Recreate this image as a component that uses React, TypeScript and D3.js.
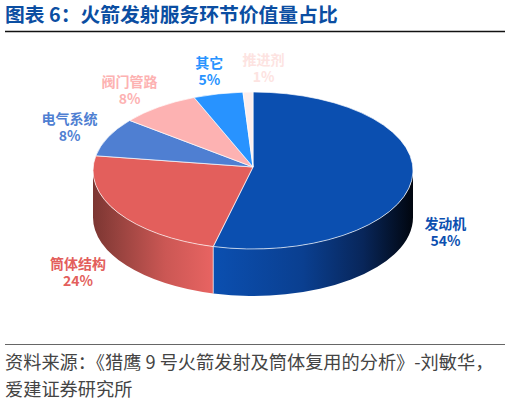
import { useMemo } from "react";
import * as d3 from "d3";

const categories = ["发动机", "筒体结构", "电气系统", "阀门管路", "其它", "推进剂"];
const shares = [54, 24, 8, 8, 5, 1];
const topColors = ["#0b4fb0", "#e35f5c", "#4f7fd2", "#fdb2b2", "#2893ff", "#fdeeec"];
const labelColors = ["#0b4fb0", "#e35f5c", "#4f7fd2", "#fdb2b2", "#2893ff", "#fde3e1"];
// small hand nudges so the labels sit where the original has them
const labelNudge = [
  [-11, 5],
  [-2, 14],
  [2, 0],
  [-3, 2],
  [1, 0],
  [17, -1],
];
const sourceLines = ["资料来源：《猎鹰 9 号火箭发射及筒体复用的分析》-刘敏华，", "爱建证券研究所"];

const W = 513;
const H = 404;
const cx = 253;
const cy = 170.5;
const rx = 160;
const ry = 78.5;
const apexY = 167;
const depth = 47;
const font = "'Noto Sans CJK SC', 'Noto Sans', sans-serif";

const px = (a: number) => cx + rx * Math.sin(a);
const py = (a: number) => cy - ry * Math.cos(a);

export default function App() {
  const slices = useMemo(
    () =>
      d3
        .pie<number>()
        .sort(null)
        .value((d) => d)(shares),
    []
  );

  const topPath = (a0: number, a1: number) => {
    const large = a1 - a0 > Math.PI ? 1 : 0;
    return `M${cx},${apexY}L${px(a0)},${py(a0)}A${rx},${ry} 0 ${large} 1 ${px(a1)},${py(a1)}Z`;
  };

  // only the front half of the rim shows
  const sidePath = (a0: number, a1: number) => {
    const s = Math.max(a0, Math.PI / 2);
    const e = Math.min(a1, (Math.PI * 3) / 2);
    if (e <= s) return null;
    return (
      `M${px(s)},${py(s)}A${rx},${ry} 0 0 1 ${px(e)},${py(e)}` +
      `L${px(e)},${py(e) + depth}A${rx},${ry} 0 0 0 ${px(s)},${py(s) + depth}Z`
    );
  };

  const blueEdgeX = px(slices[0].endAngle);

  return (
    <svg
      width={W}
      height={H}
      style={{ position: "absolute", left: 0, top: 0, background: "#fff" }}
      fontFamily={font}
    >
      <defs>
        <linearGradient id="rimBlue" gradientUnits="userSpaceOnUse" x1={blueEdgeX} x2={cx + rx} y1={0} y2={0}>
          <stop offset="0" stopColor="#0b4fb0" />
          <stop offset="0.45" stopColor="#0a3f90" />
          <stop offset="0.75" stopColor="#08265a" />
          <stop offset="1" stopColor="#01060f" />
        </linearGradient>
        <linearGradient id="rimRed" gradientUnits="userSpaceOnUse" x1={cx - rx} x2={blueEdgeX} y1={0} y2={0}>
          <stop offset="0" stopColor="#7c3632" />
          <stop offset="0.2" stopColor="#96423e" />
          <stop offset="0.6" stopColor="#cb5754" />
          <stop offset="1" stopColor="#e86462" />
        </linearGradient>
      </defs>

      <text x={5} y={22} fontSize={19.8} fontWeight={700} fill="#0b4ea2">
        图表 6：火箭发射服务环节价值量占比
      </text>
      <line x1={5} x2={505} y1={31.5} y2={31.5} stroke="#111" strokeWidth={1.4} />

      {slices.slice(0, 2).map((d, i) => {
        const p = sidePath(d.startAngle, d.endAngle);
        return p ? (
          <path key={categories[i]} d={p} fill={i === 0 ? "url(#rimBlue)" : "url(#rimRed)"} />
        ) : null;
      })}
      <line
        x1={blueEdgeX}
        x2={blueEdgeX}
        y1={py(slices[0].endAngle)}
        y2={py(slices[0].endAngle) + depth}
        stroke="#fff"
        strokeOpacity={0.8}
        strokeWidth={0.8}
      />

      {slices.map((d, i) => (
        <path
          key={categories[i]}
          d={topPath(d.startAngle, d.endAngle)}
          fill={topColors[i]}
          stroke="#fff"
          strokeOpacity={0.85}
          strokeWidth={0.8}
          strokeLinejoin="round"
        />
      ))}

      {slices.map((d, i) => {
        const mid = (d.startAngle + d.endAngle) / 2;
        const front = Math.cos(mid) < 0;
        const x = cx + 205 * Math.sin(mid) + labelNudge[i][0];
        const y = cy - (front ? 75 : 102) * Math.cos(mid) + (front ? depth : 0) + labelNudge[i][1];
        return (
          <g key={categories[i]} textAnchor="middle" fontSize={14} fontWeight={700} fill={labelColors[i]}>
            <text x={x} y={y - 3}>
              {categories[i]}
            </text>
            <text x={x} y={y + 14}>
              {d.value}%
            </text>
          </g>
        );
      })}

      <line x1={5} x2={505} y1={344.5} y2={344.5} stroke="#666" strokeWidth={1.2} />
      {sourceLines.map((t, i) => (
        <text key={t} x={5} y={369 + i * 27} fontSize={18.2} fill="#444">
          {t}
        </text>
      ))}
    </svg>
  );
}
